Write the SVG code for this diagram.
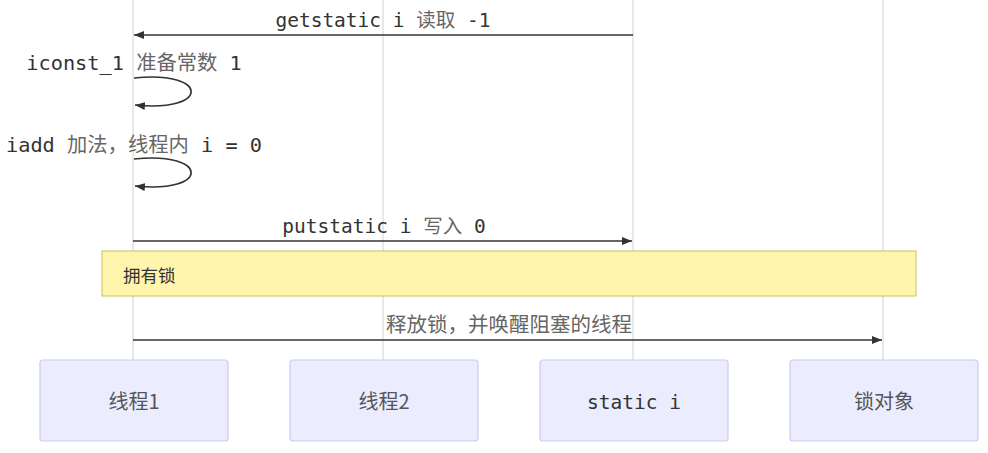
<svg xmlns="http://www.w3.org/2000/svg" width="988" height="453" viewBox="0 0 988 453">
<style>
.life{stroke:#d0d0d0;stroke-width:1}
.actor rect{fill:#ececff;stroke:#ccccee;stroke-width:1.2}
.msg{stroke:#333;stroke-width:1.6;fill:none}
.mono{font-family:"DejaVu Sans Mono","Liberation Mono","Noto Sans CJK SC",monospace;font-size:19.5px;fill:#333}
.big{font-size:20.3px}
.cjk{font-family:"Noto Sans CJK SC",sans-serif;fill:#666}
.lbl{font-family:"Noto Sans CJK SC","DejaVu Sans Mono",sans-serif;font-size:20px;fill:#555}
.cj{font-family:"Noto Sans CJK SC",sans-serif;fill:#666;font-size:20.5px}
.notetext{font-family:"Noto Sans CJK SC",sans-serif;font-size:17.5px;fill:#333}
</style>
<defs>
<marker id="ah" viewBox="0 0 10 8" refX="10" refY="4" markerWidth="10" markerHeight="8" markerUnits="userSpaceOnUse" orient="auto">
<path d="M0,0 L10,4 L0,8 z" fill="#333"/>
</marker>
</defs>
<g id="lifelines">
<line class="life" x1="133" y1="0" x2="133" y2="360"/>
<line class="life" x1="383" y1="0" x2="383" y2="360"/>
<line class="life" x1="633" y1="0" x2="633" y2="360"/>
<line class="life" x1="883" y1="0" x2="883" y2="360"/>
</g>
<g id="note">
<rect x="102" y="251" width="814" height="45" fill="#fff5ad" stroke="#c8c060" stroke-width="1"/>
<text class="notetext" x="123" y="282">拥有锁</text>
</g>
<g id="connectors">
<line class="msg" x1="633" y1="35" x2="134" y2="35" marker-end="url(#ah)"/>
<text class="mono" x="383" y="27" text-anchor="middle">getstatic i <tspan class="cjk">读取</tspan> -1</text>
<path class="msg" d="M134,78 C210,70 210,113 135,105" marker-end="url(#ah)"/>
<text class="mono big" x="134" y="70" text-anchor="middle">iconst_1 <tspan class="cjk">准备常数</tspan> 1</text>
<path class="msg" d="M134,159 C210,151 210,194 135,186" marker-end="url(#ah)"/>
<text class="mono big" x="134" y="152" text-anchor="middle">iadd <tspan class="cjk">加法，线程内</tspan> i = 0</text>
<line class="msg" x1="133" y1="241" x2="632" y2="241" marker-end="url(#ah)"/>
<text class="mono" x="384" y="233" text-anchor="middle">putstatic i <tspan class="cjk">写入</tspan> 0</text>
<line class="msg" x1="133" y1="340" x2="882" y2="340" marker-end="url(#ah)"/>
<text class="cj" x="509" y="332" text-anchor="middle">释放锁，并唤醒阻塞的线程</text>
</g>
<g id="actor1" class="actor">
<rect x="40" y="360" width="188" height="81" rx="3"/>
<text class="lbl" x="134" y="409" text-anchor="middle">线程1</text>
</g>
<g id="actor2" class="actor">
<rect x="290" y="360" width="188" height="81" rx="3"/>
<text class="lbl" x="384" y="409" text-anchor="middle">线程2</text>
</g>
<g id="actor3" class="actor">
<rect x="540" y="360" width="188" height="81" rx="3"/>
<text class="mono" x="634" y="409" text-anchor="middle">static i</text>
</g>
<g id="actor4" class="actor">
<rect x="790" y="360" width="188" height="81" rx="3"/>
<text class="lbl" x="884" y="409" text-anchor="middle">锁对象</text>
</g>
</svg>
